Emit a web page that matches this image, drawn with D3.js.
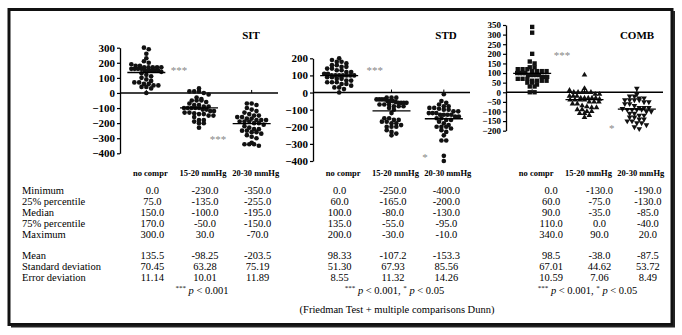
<!DOCTYPE html>
<html>
<head>
<meta charset="utf-8">
<script src="https://cdn.jsdelivr.net/npm/d3@7"></script>
<style>
  body { margin: 0; background: #fff; }
  text { font-family: "Liberation Serif", "DejaVu Serif", serif; }
</style>
</head>
<body>
<div id="chart"></div>
<script>
// ---- data ----
var categories = ["no compr", "15-20 mmHg", "20-30 mmHg"];
var panelTitles = ["SIT", "STD", "COMB"];

var sitNoCompr = [0, 30, 40, 40, 50, 50, 60, 60, 70, 70, 80, 90, 100, 110, 120, 130, 140, 150, 150, 150,
  150, 150, 160, 160, 160, 160, 170, 170, 170, 170, 170, 180, 180, 190, 200, 210, 230, 260, 290, 300];
var sit1520 = [30, 10, 10, 10, 0, -10, -30, -40, -50, -50, -50, -60, -70, -80, -80, -90, -90, -100, -100, -100,
  -100, -100, -110, -110, -120, -120, -130, -130, -135, -140, -140, -150, -150, -160, -180, -180, -190, -200, -200, -230];
var sit2030 = [-70, -70, -80, -100, -110, -120, -130, -140, -150, -150, -160, -160, -170, -170, -180, -180, -180, -190, -190, -190,
  -200, -200, -210, -220, -230, -240, -240, -250, -250, -260, -260, -270, -280, -290, -300, -330, -340, -340, -340, -350];

var stdNoCompr = [0, 20, 30, 30, 40, 50, 50, 60, 60, 60, 70, 70, 80, 80, 90, 90, 100, 100, 100, 100,
  100, 100, 100, 110, 110, 120, 120, 130, 130, 140, 140, 150, 150, 160, 160, 170, 180, 180, 190, 200];
var std1520 = [-30, -30, -30, -40, -40, -40, -40, -50, -50, -50, -55, -60, -60, -60, -60, -70, -70, -70, -80, -80,
  -80, -90, -100, -120, -150, -150, -160, -160, -170, -170, -180, -180, -190, -200, -200, -200, -220, -230, -240, -250];
var std2030 = [-10, -50, -60, -70, -80, -80, -90, -90, -95, -100, -100, -110, -110, -120, -120, -120, -130, -130, -130, -130,
  -140, -140, -150, -150, -160, -160, -170, -180, -190, -200, -200, -200, -210, -220, -230, -280, -280, -250, -370, -400];

var combNoCompr = [0, 0, 30, 30, 40, 50, 50, 60, 60, 60, 60, 70, 70, 70, 80, 80, 80, 90, 90, 90,
  90, 90, 100, 100, 100, 100, 110, 110, 110, 110, 120, 120, 120, 130, 130, 150, 160, 200, 310, 340];
var comb1520 = [90, 20, 10, 0, 0, 0, 0, 0, -10, -10, -20, -20, -20, -30, -30, -30, -30, -30, -35, -40,
  -40, -40, -40, -50, -50, -50, -60, -60, -70, -75, -80, -80, -90, -90, -100, -100, -110, -110, -120, -130];
var comb2030 = [20, -10, -20, -20, -30, -30, -40, -40, -40, -40, -50, -50, -60, -60, -70, -80, -80, -80, -85, -90,
  -90, -90, -90, -100, -100, -110, -110, -120, -120, -130, -130, -140, -140, -150, -150, -160, -160, -170, -180, -190];

var sitTicks = [300, 200, 100, 0, -100, -200, -300, -400];
var stdTicks = [200, 100, 0, -100, -200, -300, -400];
var combTicks = [350, 300, 250, 200, 150, 100, 50, 0, -50, -100, -150, -200];

var statLabels = ["Minimum", "25% percentile", "Median", "75% percentile", "Maximum",
  "Mean", "Standard deviation", "Error deviation"];
// one column per group, rows follow statLabels
var sitStats = [
  ["0.0", "75.0", "150.0", "170.0", "300.0", "135.5", "70.45", "11.14"],
  ["-230.0", "-135.0", "-100.0", "-50.0", "30.0", "-98.25", "63.28", "10.01"],
  ["-350.0", "-255.0", "-195.0", "-150.0", "-70.0", "-203.5", "75.19", "11.89"]];
var stdStats = [
  ["0.0", "60.0", "100.0", "135.0", "200.0", "98.33", "51.30", "8.55"],
  ["-250.0", "-165.0", "-80.0", "-55.0", "-30.0", "-107.2", "67.93", "11.32"],
  ["-400.0", "-200.0", "-130.0", "-95.0", "-10.0", "-153.3", "85.56", "14.26"]];
var combStats = [
  ["0.0", "60.0", "90.0", "110.0", "340.0", "98.5", "67.01", "10.59"],
  ["-130.0", "-75.0", "-35.0", "0.0", "90.0", "-38.0", "44.62", "7.06"],
  ["-190.0", "-130.0", "-85.0", "-40.0", "20.0", "-87.5", "53.72", "8.49"]];

// significance marks: [text, category index, fraction of step, value]
var sitSig = [["***", 0, 0.62, 160], ["***", 1, 0.36, -300]];
var stdSig = [["***", 0, 0.68, 140], ["*", 2, -0.36, -372]];
var combSig = [["***", 0, 0.57, 200], ["*", 2, -0.48, -181]];

var pNotes = [[["***", " 0.001"]], [["***", " 0.001, "], ["*", " 0.05"]], [["***", " 0.001, "], ["*", " 0.05"]]];
var footNote = "(Friedman Test + multiple comparisons Dunn)";

// ---- layout ----
var w = 682, h = 335;
var panels = [
  {title: panelTitles[0], groups: [sitNoCompr, sit1520, sit2030], stats: sitStats, ticks: sitTicks, sig: sitSig,
   xr: [120, 278], yr: [153.3, 47.7], tr: [126, 284], titleX: 251, tickFont: 11, symbols: ["circle", "circle", "circle"]},
  {title: panelTitles[1], groups: [stdNoCompr, std1520, std2030], stats: stdStats, ticks: stdTicks, sig: stdSig,
   xr: [313, 470], yr: [161, 58.3], tr: [313, 473], titleX: 446, tickFont: 11, symbols: ["circle", "circle", "circle"]},
  {title: panelTitles[2], groups: [combNoCompr, comb1520, comb2030], stats: combStats, ticks: combTicks, sig: combSig,
   xr: [506, 663], yr: [130.7, 25], tr: [527, 672], titleX: 637, tickFont: 9, symbols: ["square", "up", "down"]}
];

var svg = d3.select("#chart").append("svg")
  .attr("width", w)
  .attr("height", h);

svg.append("rect")
  .attr("x", 0).attr("y", 0).attr("width", w).attr("height", h)
  .attr("fill", "#fff");

// frame
svg.append("rect")
  .attr("x", 9).attr("y", 9.5)
  .attr("width", 663).attr("height", 315)
  .attr("fill", "none")
  .attr("stroke", "#111")
  .attr("stroke-width", 3);
svg.append("path")
  .attr("d", "M674,11V326.5H11")
  .attr("fill", "none")
  .attr("stroke", "#222")
  .attr("stroke-width", 2);

// column scatter: points sharing a pixel row are laid side by side
function spread(values, y, cx, binH, gap, maxW) {
  var bins = d3.group(values.slice().sort(d3.descending), function(v) { return Math.round(y(v) / binH); });
  var pts = [];
  bins.forEach(function(vs) {
    var n = vs.length;
    var s = n > 1 ? Math.min(gap, maxW / (n - 1)) : 0;
    vs.forEach(function(v, j) {
      pts.push({v: v, x: cx + (j - (n - 1) / 2) * s, y: y(v)});
    });
  });
  return pts;
}

var rowY = function(i) { return 194 + i * 11.1 + (i >= 5 ? 9.5 : 0); };

// stat labels
svg.append("g").selectAll("text")
  .data(statLabels)
  .enter()
  .append("text")
  .attr("x", 22)
  .attr("y", function(d, i) { return rowY(i); })
  .attr("font-size", 10.5)
  .text(function(d) { return d; });

panels.forEach(function(p, pi) {
  var g = svg.append("g");

  var xScale = d3.scalePoint().domain(categories).range(p.xr).padding(0.5);
  var yScale = d3.scaleLinear().domain([p.ticks[p.ticks.length - 1], p.ticks[0]]).range(p.yr);
  var tScale = d3.scalePoint().domain(categories).range(p.tr).padding(0.5);

  var yAxis = d3.axisLeft(yScale)
    .tickValues(p.ticks)
    .tickSize(3)
    .tickSizeOuter(0)
    .tickPadding(2);

  var ax = g.append("g")
    .attr("transform", "translate(" + p.xr[0] + ",0)")
    .call(yAxis);
  ax.attr("font-family", "Liberation Serif, serif")
    .attr("font-size", p.tickFont)
    .attr("font-weight", "bold");
  ax.select(".domain").attr("stroke-width", 1.3);
  ax.selectAll(".tick line").attr("stroke-width", 1.2);

  // zero line
  var y0 = yScale(0);
  g.append("line")
    .attr("x1", p.xr[0]).attr("x2", p.xr[1])
    .attr("y1", y0).attr("y2", y0)
    .attr("stroke", "#000")
    .attr("stroke-width", 1.4);
  g.selectAll(".ctick")
    .data(categories)
    .enter()
    .append("line")
    .attr("x1", function(d) { return xScale(d); })
    .attr("x2", function(d) { return xScale(d); })
    .attr("y1", y0 - 3).attr("y2", y0)
    .attr("stroke", "#000");

  // title
  g.append("text")
    .attr("x", p.titleX).attr("y", 38.5)
    .attr("text-anchor", "middle")
    .attr("font-size", 11)
    .attr("font-weight", "bold")
    .text(p.title);

  // category labels
  g.selectAll(".clab")
    .data(categories)
    .enter()
    .append("text")
    .attr("x", function(d) { return xScale(d) + 4; })
    .attr("y", 175.5)
    .attr("text-anchor", "middle")
    .attr("font-size", 8.5)
    .attr("font-weight", "bold")
    .text(function(d) { return d; });

  // points
  p.groups.forEach(function(vals, gi) {
    var cx = xScale(categories[gi]);
    var pts = spread(vals, yScale, cx, 4.4, 4.8, 30);
    var type = p.symbols[gi];
    var sym = d3.symbol()
      .type(type === "circle" ? d3.symbolCircle : type === "square" ? d3.symbolSquare : d3.symbolTriangle)
      .size(type === "circle" ? 17 : type === "square" ? 19 : 14);
    g.append("g").selectAll("path")
      .data(pts)
      .enter()
      .append("path")
      .attr("d", sym)
      .attr("transform", function(d) {
        return "translate(" + d.x + "," + d.y + ")" + (type === "down" ? " rotate(180)" : "");
      })
      .attr("fill", "#111");

    var mean = parseFloat(p.stats[gi][5]);
    g.append("line")
      .attr("x1", cx - 19).attr("x2", cx + 19)
      .attr("y1", yScale(mean)).attr("y2", yScale(mean))
      .attr("stroke", "#000")
      .attr("stroke-width", 1.3);
  });

  // significance stars
  var step = xScale.step();
  g.selectAll(".sig")
    .data(p.sig)
    .enter()
    .append("text")
    .attr("x", function(d) { return xScale(categories[d[1]]) + d[2] * step; })
    .attr("y", function(d) { return yScale(d[3]); })
    .attr("dy", "0.45em")
    .attr("text-anchor", "middle")
    .attr("font-size", 11)
    .attr("fill", "#888")
    .text(function(d) { return d[0]; });

  // stats table
  p.stats.forEach(function(col, ci) {
    g.append("g").selectAll("text")
      .data(col)
      .enter()
      .append("text")
      .attr("x", tScale(categories[ci]))
      .attr("y", function(d, i) { return rowY(i); })
      .attr("text-anchor", "middle")
      .attr("font-size", 10.5)
      .text(function(d) { return d; });
  });

  // p-value note
  var pt = g.append("text")
    .attr("x", xScale(categories[1]) + 3)
    .attr("y", 293.5)
    .attr("text-anchor", "middle")
    .attr("font-size", 10.5);
  pNotes[pi].forEach(function(part) {
    pt.append("tspan").attr("font-size", 7).attr("dy", -4).text(part[0]);
    pt.append("tspan").attr("dy", 4).attr("font-style", "italic").text(" p");
    pt.append("tspan").text(" <" + part[1]);
  });
});

svg.append("text")
  .attr("x", 397).attr("y", 313)
  .attr("text-anchor", "middle")
  .attr("font-size", 10.5)
  .text(footNote);
</script>
</body>
</html>
